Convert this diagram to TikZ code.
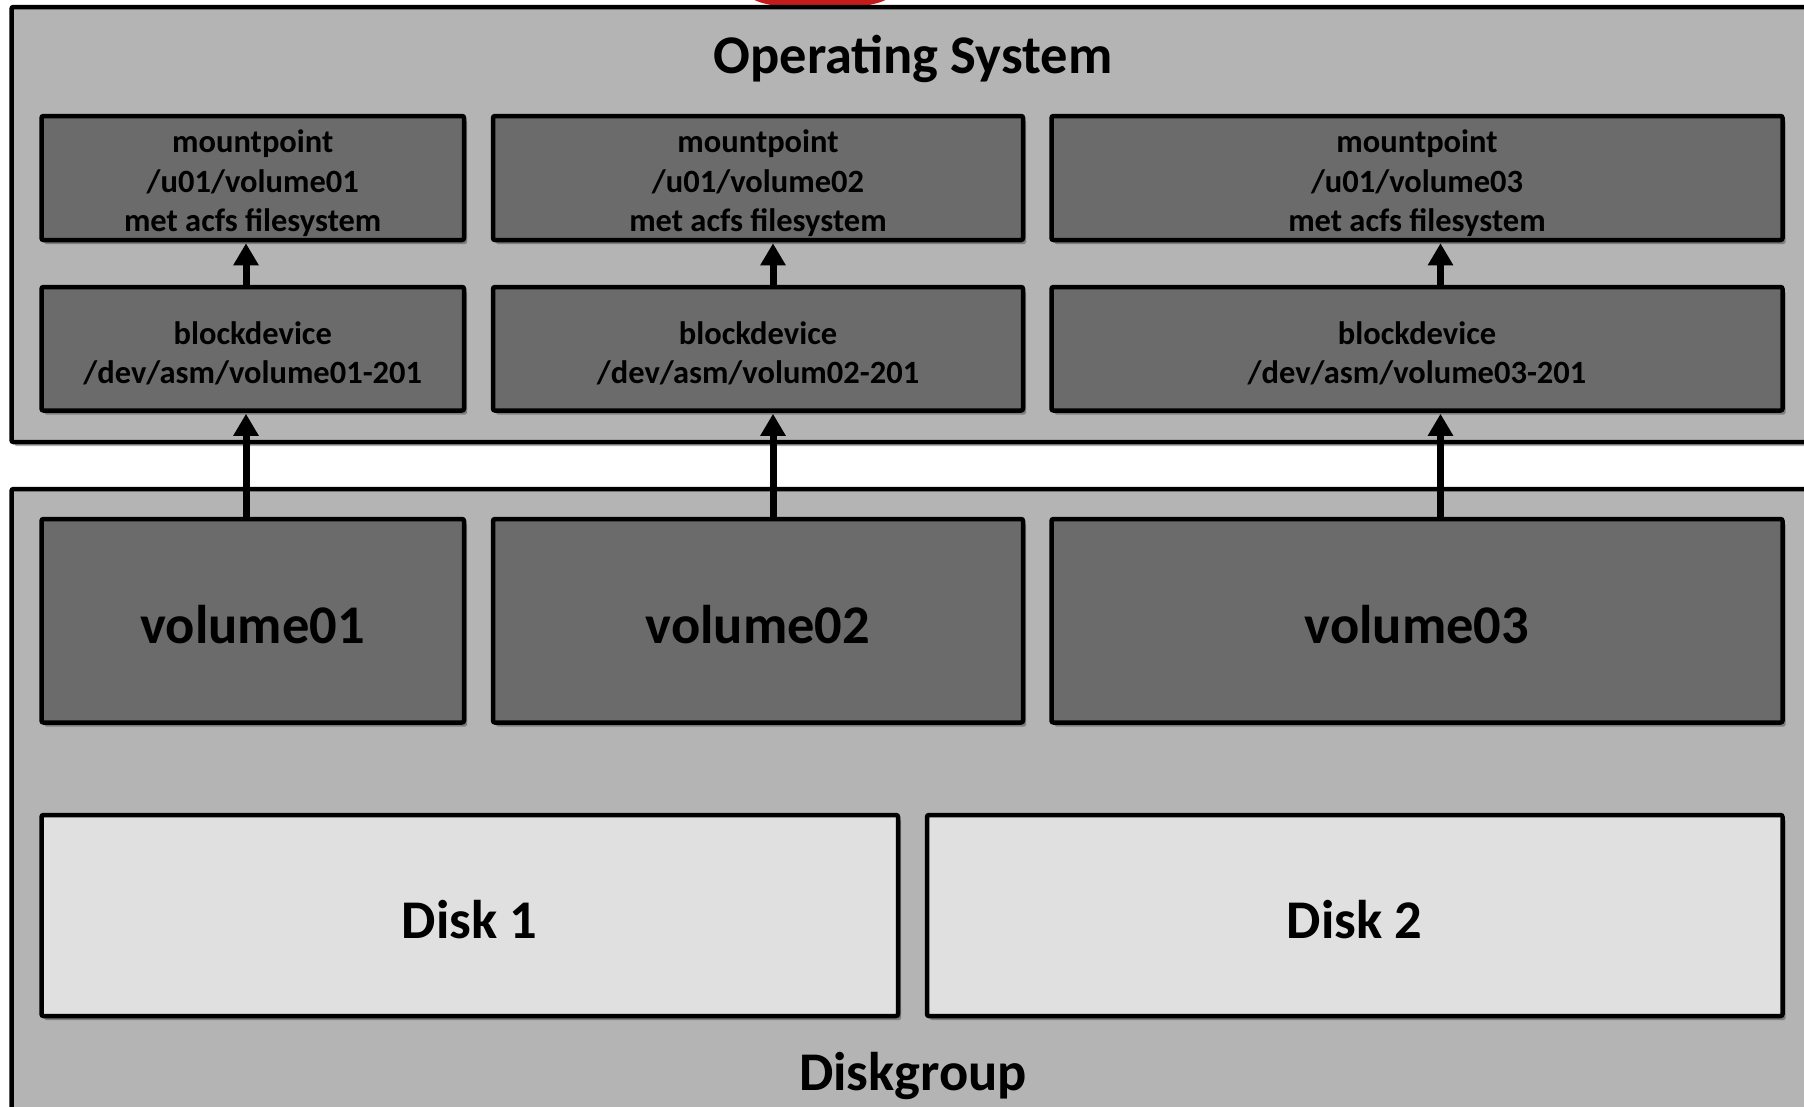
\documentclass[tikz,border=0pt]{standalone}
\usepackage{fontspec}
\setmainfont{Carlito}
\usetikzlibrary{shadows,arrows.meta}
\definecolor{panelgray}{RGB}{180,180,180}
\definecolor{boxgray}{RGB}{107,107,107}
\definecolor{diskgray}{RGB}{224,224,224}
\definecolor{logored}{RGB}{196,28,28}
\begin{document}
\begin{tikzpicture}[x=1pt,y=-1pt,
  shadowed/.style={drop shadow={shadow xshift=3pt,shadow yshift=-4pt,opacity=0.3,fill=black}},
  panel/.style={draw=black,line width=4.5pt,fill=panelgray,rounded corners=2pt,shadowed},
  darkbox/.style={draw=black,line width=4.5pt,fill=boxgray,rounded corners=2pt,shadowed,inner sep=0pt},
  diskbox/.style={draw=black,line width=4.5pt,fill=diskgray,rounded corners=2pt,shadowed,inner sep=0pt},
  smalltext/.style={inner sep=0pt,align=center,text=black,font=\fontsize{32.5}{39.5}\selectfont\bfseries},
  bigtext/.style={inner sep=0pt,align=center,text=black,font=\fontsize{54.5}{60}\selectfont\bfseries},
  arr/.style={line width=7pt,-{Triangle[width=24pt,length=22pt]},shorten >=1pt}
]
\useasboundingbox (0,0) rectangle (1804,1106);
\clip (0,0) rectangle (1804,1106);
\fill[white] (0,0) rectangle (1804,1106);

% red logo fragment peeking above
\fill[logored] (820,-5) ellipse [x radius=70, y radius=14];

% panels
\path[panel] (11.5,7) rectangle (1840,442);
\path[panel] (11.5,489) rectangle (1840,1140);

\node[bigtext] (ostitle) at (913,58.5) {Operating System};
\node[bigtext] (dgtitle) at (913,1075.5) {Diskgroup};

% mountpoint row
\node[darkbox,minimum width=422.5pt,minimum height=124pt] (m1) at (252.75,178) {};
\node[darkbox,minimum width=530pt,minimum height=124pt] (m2) at (758,178) {};
\node[darkbox,minimum width=731pt,minimum height=124pt] (m3) at (1417,178) {};
\node[smalltext] (m1t) at ([yshift=-5.5pt]m1.center) {mountpoint\\/u01/volume01\\met acfs filesystem};
\node[smalltext] (m2t) at ([yshift=-5.5pt]m2.center) {mountpoint\\/u01/volume02\\met acfs filesystem};
\node[smalltext] (m3t) at ([yshift=-5.5pt]m3.center) {mountpoint\\/u01/volume03\\met acfs filesystem};

% blockdevice row
\node[darkbox,minimum width=422.5pt,minimum height=123.5pt] (b1) at (252.75,348.75) {};
\node[darkbox,minimum width=530pt,minimum height=123.5pt] (b2) at (758,348.75) {};
\node[darkbox,minimum width=731pt,minimum height=123.5pt] (b3) at (1417,348.75) {};
\node[smalltext] (b1t) at ([yshift=-4.5pt]b1.center) {blockdevice\\/dev/asm/volume01-201};
\node[smalltext] (b2t) at ([yshift=-4.5pt]b2.center) {blockdevice\\/dev/asm/volum02-201};
\node[smalltext] (b3t) at ([yshift=-4.5pt]b3.center) {blockdevice\\/dev/asm/volume03-201};

% volume row
\node[darkbox,minimum width=422.5pt,minimum height=203.5pt] (v1) at (252.75,620.75) {};
\node[darkbox,minimum width=530pt,minimum height=203.5pt] (v2) at (758,620.75) {};
\node[darkbox,minimum width=731pt,minimum height=203.5pt] (v3) at (1417,620.75) {};
\node[bigtext] (v1t) at ([yshift=-3.5pt]v1.center) {volume01};
\node[bigtext] (v2t) at ([yshift=-3.5pt]v2.center) {volume02};
\node[bigtext] (v3t) at ([yshift=-3.5pt]v3.center) {volume03};

% disks
\node[diskbox,minimum width=856.5pt,minimum height=201pt] (d1) at (469.75,915.5) {};
\node[diskbox,minimum width=855.5pt,minimum height=201pt] (d2) at (1354.75,915.5) {};
\node[bigtext] (d1t) at ([yshift=-4.5pt]d1.center) {Disk 1};
\node[bigtext] (d2t) at ([yshift=-4.5pt]d2.center) {Disk 2};

% arrows
\coordinate (a1) at (246,0);
\coordinate (a2) at (773,0);
\coordinate (a3) at (1440.5,0);
\draw[arr] (a1 |- v1.north) -- (a1 |- b1.south);
\draw[arr] (a2 |- v2.north) -- (a2 |- b2.south);
\draw[arr] (a3 |- v3.north) -- (a3 |- b3.south);
\draw[arr] (a1 |- b1.north) -- (a1 |- m1.south);
\draw[arr] (a2 |- b2.north) -- (a2 |- m2.south);
\draw[arr] (a3 |- b3.north) -- (a3 |- m3.south);
\end{tikzpicture}
\end{document}
